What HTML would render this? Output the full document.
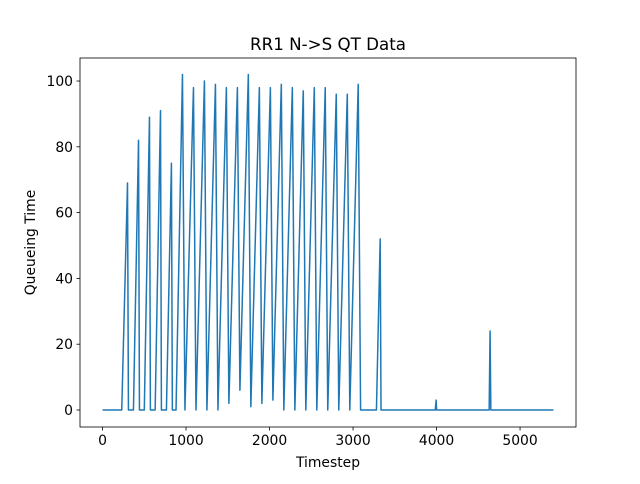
<!DOCTYPE html>
<html><head><meta charset="utf-8"><style>
body{margin:0;background:#fff;font-family:"DejaVu Sans","Liberation Sans",sans-serif;}
</style></head><body>
<svg id="chart" width="640" height="480" viewBox="0 0 640 480" xmlns="http://www.w3.org/2000/svg" font-family="DejaVu Sans, Liberation Sans, sans-serif"></svg>
<script>
const times=[0,230,299,310,370,431,442,500,562,573,630,694,705,765,825,836,880,957,987,1089,1119,1220,1250,1352,1382,1483,1513,1615,1645,1746,1776,1878,1908,2010,2040,2141,2171,2273,2303,2404,2434,2536,2566,2667,2697,2799,2829,2931,2961,3062,3090,3280,3325,3335,3985,3995,4000,4630,4641,4650,5400];
const values=[0,0,69,0,0,82,0,0,89,0,0,91,0,0,75,0,0,102,0,98,0,100,0,99,0,98,2,98,6,102,1,98,2,98,3,99,0,98,0,97,0,98,0,98,0,96,0,96,0,99,0,0,52,0,0,3,0,0,24,0,0];
const xTicks=[0,1000,2000,3000,4000,5000];
const yTicks=[0,20,40,60,80,100];
const L=80,R=576,T=58,B=427;
const xMin=-270,xMax=5670,yMin=-5.17,yMax=107;
const sx=t=>L+(t-xMin)/(xMax-xMin)*(R-L);
const sy=v=>B-(v-yMin)/(yMax-yMin)*(B-T);
const svg=document.getElementById('chart');
const NS='http://www.w3.org/2000/svg';
function mk(tag,attrs,txt){const e=document.createElementNS(NS,tag);for(const k in attrs)e.setAttribute(k,attrs[k]);if(txt!==undefined)e.textContent=txt;svg.appendChild(e);return e;}
let d='';
times.forEach((t,i)=>{d+=(i?'L':'M')+sx(t).toFixed(2)+','+sy(values[i]).toFixed(2);});
const line=mk('path',{d:d,fill:'none',stroke:'#1f77b4','stroke-width':1.5,'stroke-linejoin':'round'});


const frame=mk('rect',{x:L,y:T,width:R-L,height:B-T,fill:'none',stroke:'#000','stroke-width':0.8});


xTicks.forEach(v=>{
  const x=sx(v);
  const tk=mk('line',{x1:x,x2:x,y1:B,y2:B+3.5,stroke:'#000','stroke-width':0.8});
  
  
  const lb=mk('text',{x:x,y:B+18,'text-anchor':'middle','font-size':13.9,fill:'#000'},String(v));
  
  
});
yTicks.forEach(v=>{
  const y=sy(v);
  const tk=mk('line',{x1:L-3.5,x2:L,y1:y,y2:y,stroke:'#000','stroke-width':0.8});
  
  
  const lb=mk('text',{x:L-7,y:y+5,'text-anchor':'end','font-size':13.9,fill:'#000'},String(v));
  
  
});
const title=mk('text',{x:(L+R)/2,y:50,'text-anchor':'middle','font-size':16.7,fill:'#000'},'RR1 N->S QT Data');


const xl=mk('text',{x:(L+R)/2,y:467,'text-anchor':'middle','font-size':13.9,fill:'#000'},'Timestep');


const yl=mk('text',{x:35,y:(T+B)/2,'text-anchor':'middle','font-size':13.9,fill:'#000',transform:'rotate(-90 35 '+((T+B)/2)+')'},'Queueing Time');


</script>
</body></html>
